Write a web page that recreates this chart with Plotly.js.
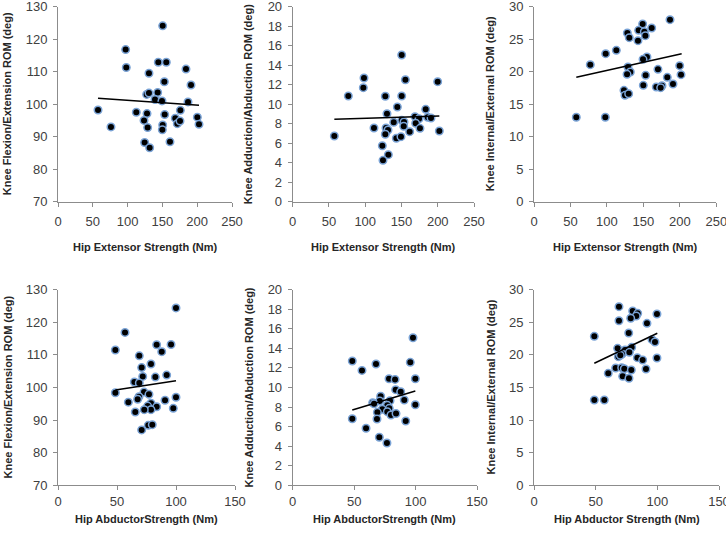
<!DOCTYPE html>
<html>
<head>
<meta charset="utf-8">
<script src="https://cdn.plot.ly/plotly-3.0.1.min.js"></script>
<style>html,body{margin:0;padding:0;background:#fff}#chart{width:726px;height:536px}</style>
</head>
<body>
<div id="chart"></div>
<script>
// ---------- Data ----------
// Top row: Hip Extensor Strength (Nm)
const ext_fe_x = [150.4,97.2,98.1,144.1,155.6,183.9,130.7,152.8,191.1,127.4,130.7,143.2,139.4,149.4,186.8,57.5,112.5,127.9,153.3,175.8,123.6,168.5,171.4,175.3,200.2,202.6,76.1,128.8,150.4,149.9,124.5,131.7,160.9];
const ext_fe_y = [124.1,116.8,111.3,112.9,112.9,110.8,109.5,106.9,105.9,103.0,103.4,103.6,101.4,101.0,100.7,98.2,97.5,97.1,96.8,98.1,95.0,95.7,94.0,94.8,96.0,93.8,93.0,92.8,93.6,92.1,88.2,86.6,88.4];
const ext_fe_trend_x = [57.5, 202.6];
const ext_fe_trend_y = [101.8, 99.7];

const ext_aa_x = [150.3,98.3,97.4,76.7,155.4,199.9,127.7,150.3,144.3,183.4,130.0,168.6,174.2,186.2,190.7,150.3,153.5,139.3,169.6,57.4,112.1,128.7,131.4,153.1,175.5,161.3,202.2,127.7,142.9,149.3,123.6,131.9,124.5];
const ext_aa_y = [15.04,12.68,11.69,10.84,12.51,12.31,10.81,10.84,9.71,9.47,9.02,8.72,8.51,8.65,8.58,8.34,8.17,8.14,8.04,6.74,7.56,7.56,7.35,7.73,7.52,7.18,7.25,6.91,6.50,6.67,5.74,4.82,4.24];
const ext_aa_trend_x = [57.4, 202.2];
const ext_aa_trend_y = [8.45, 8.79];

const ext_ie_x = [186.5,149.0,161.4,143.5,151.3,128.0,152.7,130.7,142.6,112.9,98.3,154.9,149.5,77.2,199.8,128.9,170.0,132.1,127.6,201.6,153.1,182.8,190.6,149.9,167.7,175.5,173.7,123.4,124.8,129.8,58.0,97.8];
const ext_ie_y = [28.0,27.33,26.72,26.36,26.15,25.95,25.54,25.23,24.77,23.28,22.77,22.26,21.90,21.08,20.92,20.72,20.36,19.95,19.59,19.54,19.44,19.13,18.10,17.90,17.64,17.84,17.54,17.13,16.36,16.61,12.98,12.98];
const ext_ie_trend_x = [58.0, 202.5];
const ext_ie_trend_y = [19.13, 22.77];

// Bottom row: Hip Abductor Strength (Nm)
const abd_fe_x = [100.0,56.8,48.6,83.6,95.8,87.9,68.9,78.8,70.9,71.8,82.5,92.1,64.7,68.9,48.6,72.9,77.1,68.6,67.5,100.0,90.7,59.6,78.8,76.0,83.6,78.8,73.1,65.5,97.7,76.5,79.9,70.9];
const abd_fe_y = [124.4,116.9,111.5,113.1,113.2,111.0,109.7,107.2,106.1,103.4,103.2,103.8,101.7,101.4,98.4,98.6,97.9,97.2,96.4,97.0,96.1,95.5,95.2,94.3,94.1,93.2,93.2,92.5,93.6,88.4,88.6,87.0];
const abd_fe_trend_x = [48.6, 100.0];
const abd_fe_trend_y = [99.2, 102.1];

const abd_aa_x = [97.9,48.5,95.7,67.8,56.4,78.4,83.3,99.8,83.8,87.9,71.6,90.8,79.2,70.8,65.1,66.2,77.0,99.8,72.9,78.6,68.9,77.0,80.0,84.1,48.5,68.6,92.0,59.7,70.5,76.7];
const abd_aa_y = [15.09,12.71,12.57,12.40,11.75,10.90,10.83,10.90,9.78,9.57,9.10,8.72,8.65,8.62,8.45,8.34,8.18,8.24,7.77,7.87,7.46,7.53,7.19,7.33,6.81,6.78,6.58,5.83,4.91,4.33];
const abd_aa_trend_x = [48.5, 99.8];
const abd_aa_trend_y = [7.70, 9.64];

const abd_ie_x = [68.9,80.0,84.1,99.7,82.9,78.4,68.9,91.6,76.8,48.9,95.7,98.1,67.8,79.2,73.8,71.4,77.3,68.4,70.0,83.8,88.1,99.7,66.2,71.1,73.2,78.9,90.8,60.2,71.9,77.0,48.9,57.0];
const abd_ie_y = [27.39,26.73,26.37,26.27,25.96,25.61,25.24,24.84,23.35,22.84,22.33,21.98,21.00,21.16,20.75,20.14,20.39,19.73,19.93,19.57,19.22,19.52,17.99,18.04,17.88,17.68,17.84,17.17,16.71,16.41,13.08,13.08];
const abd_ie_trend_x = [48.9, 100.0];
const abd_ie_trend_y = [18.71, 23.31];

// Axis ranges / ticks
const xExtRange = [0, 250], xAbdRange = [0, 150];
const yFERange = [70, 130], yAARange = [0, 20], yIERange = [0, 30];

const xTitleExt = "Hip Extensor Strength (Nm)";
const xTitleAbd1 = "Hip AbductorStrength (Nm)";
const xTitleAbd2 = "Hip Abductor Strength (Nm)";
const yTitleFE = "Knee Flexion/Extension ROM (deg)";
const yTitleAA = "Knee Adduction/Abduction ROM (deg)";
const yTitleIE = "Knee Internal/External ROM (deg)";

// ---------- Layout geometry (pixels) ----------
const W = 726, H = 536;
const panels = [
  {x: ext_fe_x, y: ext_fe_y, tx: ext_fe_trend_x, ty: ext_fe_trend_y, xr: xExtRange, yr: yFERange, yd: 10, px: [58, 232], py: [6.67, 201.67], xt: xTitleExt, yt: yTitleFE, ytx: 7, xty: 247, xs: 4},
  {x: ext_aa_x, y: ext_aa_y, tx: ext_aa_trend_x, ty: ext_aa_trend_y, xr: xExtRange, yr: yAARange, yd: 2, px: [292.7, 474], py: [6.67, 201.67], xt: xTitleExt, yt: yTitleAA, ytx: 248, xty: 247, xs: 4},
  {x: ext_ie_x, y: ext_ie_y, tx: ext_ie_trend_x, ty: ext_ie_trend_y, xr: xExtRange, yr: yIERange, yd: 5, px: [534, 716.3], py: [6.67, 201.67], xt: xTitleExt, yt: yTitleIE, ytx: 490, xty: 247, xs: 4},
  {x: abd_fe_x, y: abd_fe_y, tx: abd_fe_trend_x, ty: abd_fe_trend_y, xr: xAbdRange, yr: yFERange, yd: 10, px: [58, 235], py: [289.67, 485.33], xt: xTitleAbd1, yt: yTitleFE, ytx: 7, xty: 519, xs: 1.5},
  {x: abd_aa_x, y: abd_aa_y, tx: abd_aa_trend_x, ty: abd_aa_trend_y, xr: xAbdRange, yr: yAARange, yd: 2, px: [292.7, 477], py: [289.67, 485.33], xt: xTitleAbd1, yt: yTitleAA, ytx: 248, xty: 519, xs: 1.5},
  {x: abd_ie_x, y: abd_ie_y, tx: abd_ie_trend_x, ty: abd_ie_trend_y, xr: xAbdRange, yr: yIERange, yd: 5, px: [534, 719], py: [289.67, 485.33], xt: xTitleAbd2, yt: yTitleIE, ytx: 490, xty: 519, xs: 1.5}
];

const axisColor = '#8c8c8c';
const tickFont = {family: 'Liberation Sans, Arial, sans-serif', size: 13, color: '#404040'};
const titleFont = {family: 'Liberation Sans, Arial, sans-serif', size: 11, color: '#262626'};

const traces = [];
const layout = {
  width: W, height: H,
  margin: {l: 0, r: 0, t: 0, b: 0},
  paper_bgcolor: '#ffffff', plot_bgcolor: '#ffffff',
  showlegend: false,
  annotations: []
};

panels.forEach((p, i) => {
  const n = i + 1;
  const xa = n === 1 ? 'x' : 'x' + n;
  const ya = n === 1 ? 'y' : 'y' + n;
  traces.push({
    type: 'scatter', mode: 'markers', x: p.x, y: p.y, xaxis: xa, yaxis: ya,
    marker: {color: '#000000', size: 7.5, line: {color: '#7aa3d6', width: 1.5}},
    hoverinfo: 'skip', cliponaxis: false
  });
  traces.push({
    type: 'scatter', mode: 'lines', x: p.tx, y: p.ty, xaxis: xa, yaxis: ya,
    line: {color: '#000000', width: 1.5}, hoverinfo: 'skip'
  });
  const xd = [p.px[0] / W, p.px[1] / W];
  const yd = [1 - p.py[1] / H, 1 - p.py[0] / H];
  layout['xaxis' + (n === 1 ? '' : n)] = {
    domain: xd, anchor: ya, range: p.xr, dtick: 50, tick0: 0,
    showgrid: false, zeroline: false, showline: true, linecolor: axisColor, linewidth: 1,
    ticks: 'outside', ticklen: 4, tickcolor: axisColor, tickfont: tickFont,
    ticklabelstandoff: p.xs, ticklabeloverflow: 'allow', fixedrange: true
  };
  layout['yaxis' + (n === 1 ? '' : n)] = {
    domain: yd, anchor: xa, range: p.yr, dtick: p.yd, tick0: 0,
    showgrid: false, zeroline: false, showline: true, linecolor: axisColor, linewidth: 1,
    ticks: 'outside', ticklen: 4, tickcolor: axisColor, tickfont: tickFont,
    ticklabelstandoff: 3, ticklabeloverflow: 'allow', fixedrange: true
  };
  layout.annotations.push({
    xref: 'paper', yref: 'paper',
    x: (p.px[0] + p.px[1]) / 2 / W, y: 1 - p.xty / H,
    xanchor: 'center', yanchor: 'middle', showarrow: false,
    text: '<b>' + p.xt + '</b>', font: titleFont
  });
  layout.annotations.push({
    xref: 'paper', yref: 'paper',
    x: p.ytx / W, y: 1 - (p.py[0] + p.py[1]) / 2 / H,
    xanchor: 'center', yanchor: 'middle', showarrow: false, textangle: -90,
    text: '<b>' + p.yt + '</b>', font: titleFont
  });
});

Plotly.newPlot('chart', traces, layout, {displayModeBar: false, staticPlot: true});
</script>
</body>
</html>
